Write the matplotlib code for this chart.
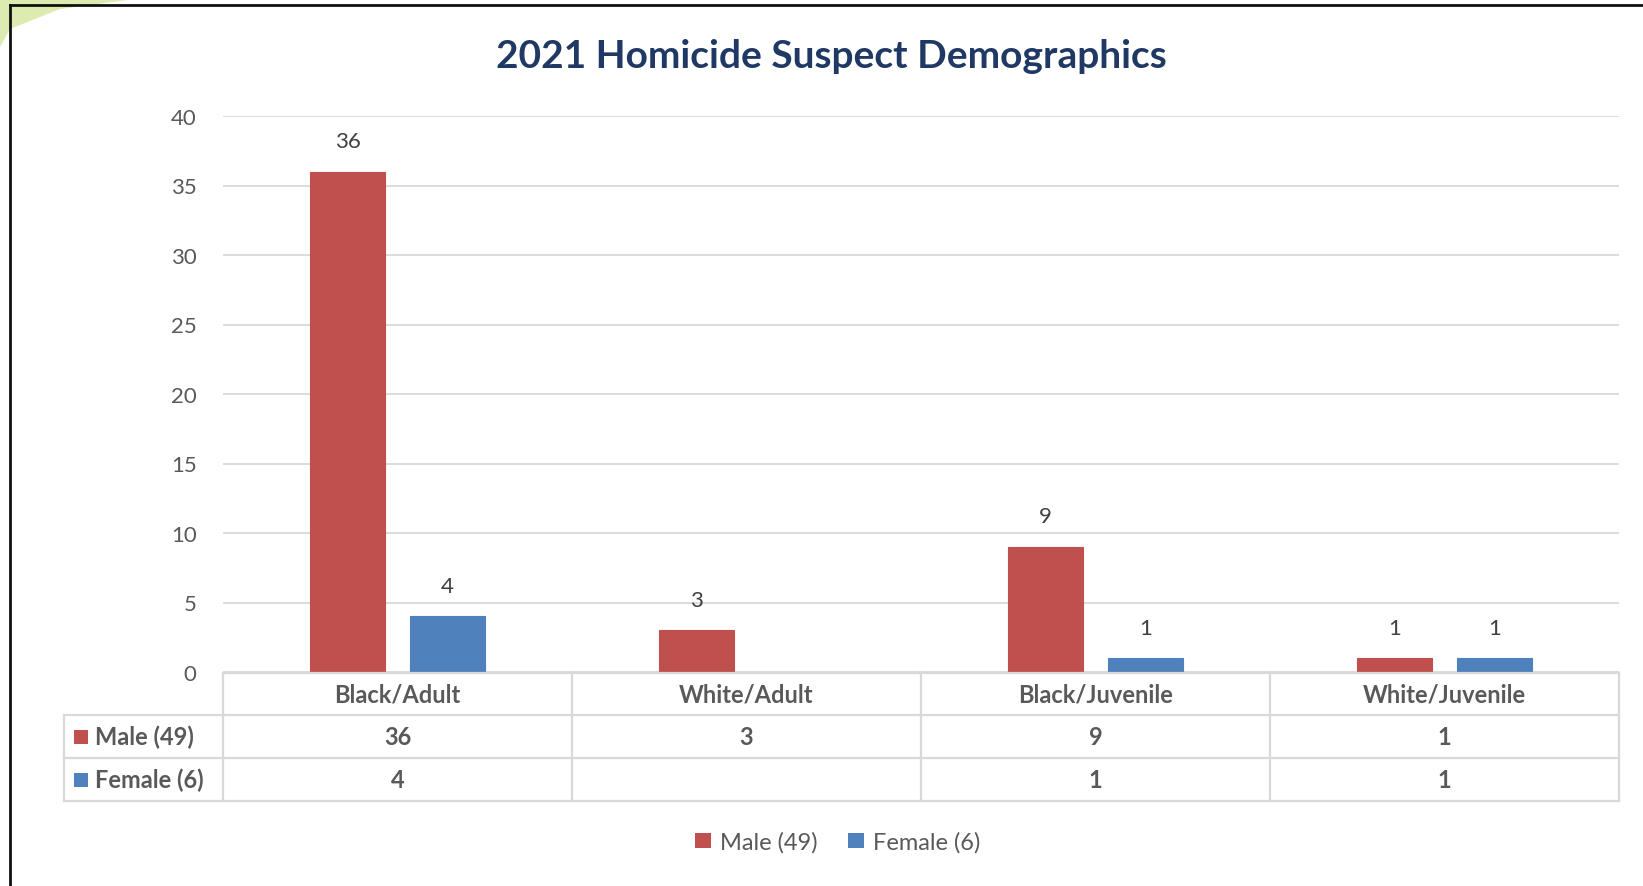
import matplotlib
matplotlib.use('Agg')
import matplotlib.pyplot as plt
import matplotlib.transforms as mtransforms
from matplotlib.patches import Rectangle, Polygon
from matplotlib.lines import Line2D
import numpy as np

# ---- data ----
categories = ['Black/Adult', 'White/Adult', 'Black/Juvenile', 'White/Juvenile']
series_names = ['Male (49)', 'Female (6)']
male = [36, 3, 9, 1]
female = [4, None, 1, 1]
y_ticks = [0, 5, 10, 15, 20, 25, 30, 35, 40]
title = '2021 Homicide Suspect Demographics'

colors = ['#C0504D', '#4F81BD']
text_col = '#595959'
grid_col = '#D9D9D9'
FONT = 'Lato'

W, H = 1643, 887
fig = plt.figure(figsize=(W / 100, H / 100), dpi=100)
fig.patch.set_facecolor('white')

def fx(px):
    return px / W

def fy(py):
    return 1 - py / H

# decorative corner swoosh and frame
fig.add_artist(Polygon([(0, fy(0)), (fx(135), fy(0)), (fx(60), fy(10)), (fx(10), fy(30)), (0, fy(48))],
                       closed=True, transform=fig.transFigure, facecolor='#DCEBB0', edgecolor='none'))
fig.add_artist(Line2D([fx(10), fx(10)], [fy(6), 0], transform=fig.transFigure, color='#111111', lw=2))
fig.add_artist(Line2D([fx(10), 1], [fy(6), fy(6)], transform=fig.transFigure, color='#111111', lw=2))

# main axes
ax_l, ax_r, ax_t, ax_b = 223, 1619, 117, 673
ax = fig.add_axes([fx(ax_l), fy(ax_b), fx(ax_r) - fx(ax_l), fy(ax_t) - fy(ax_b)])
ax.set_xlim(0, len(categories))
ax.set_ylim(0, 40)
ax.set_yticks(y_ticks)
ax.set_yticklabels([str(t) for t in y_ticks], fontsize=16, color=text_col, family=FONT)
ax.tick_params(axis='y', length=0, pad=19)
ax.tick_params(axis='x', length=0, labelbottom=False)
for s in ax.spines.values():
    s.set_visible(False)
ax.grid(axis='y', color=grid_col, lw=1.3)
ax.set_axisbelow(True)

bw = 0.215
off = 0.143
xs = np.arange(len(categories)) + 0.5
for i, (vals, c) in enumerate(zip([male, female], colors)):
    sign = -1 if i == 0 else 1
    for x, v in zip(xs, vals):
        if v is None:
            continue
        ax.bar(x + sign * off, v, width=bw, color=c, edgecolor=c, lw=0.8)
        ax.annotate(str(v), (x + sign * off, v), xytext=(0, 22), textcoords='offset points',
                    ha='center', va='center', fontsize=16, color='#404040', family=FONT)

fig.text(fx(831), fy(56), title, ha='center', va='center', fontsize=28, fontweight='bold',
         color='#1F3864', family=FONT)

# data table below
blend = mtransforms.blended_transform_factory(ax.transData, fig.transFigure)
y_top, y_h, y_m, y_f = 674, 716, 759, 802
tl_x = 64
lc = grid_col
lw = 1.6
fig.add_artist(Line2D([fx(ax_l), fx(ax_r)], [fy(y_top)] * 2, transform=fig.transFigure, color=lc, lw=lw))
for yy in (y_h, y_m, y_f):
    fig.add_artist(Line2D([fx(tl_x), fx(ax_r)], [fy(yy)] * 2, transform=fig.transFigure, color=lc, lw=lw))
fig.add_artist(Line2D([fx(tl_x)] * 2, [fy(y_h), fy(y_f)], transform=fig.transFigure, color=lc, lw=lw))
for k in range(len(categories) + 1):
    fig.add_artist(Line2D([k, k], [fy(y_top), fy(y_f)], transform=blend, color=lc, lw=lw))

row_c = [(y_top + y_h) / 2, (y_h + y_m) / 2, (y_m + y_f) / 2]
tsize = 17
for x, cat in zip(xs, categories):
    fig.text(x, fy(row_c[0]), cat, transform=blend, ha='center', va='center',
             fontsize=tsize, fontweight='bold', color=text_col, family=FONT)
for r, vals in enumerate([male, female]):
    for x, v in zip(xs, vals):
        if v is None:
            continue
        fig.text(x, fy(row_c[r + 1]), str(v), transform=blend, ha='center', va='center',
                 fontsize=tsize, fontweight='bold', color=text_col, family=FONT)
    fig.add_artist(Rectangle((fx(74), fy(row_c[r + 1] + 7)), fx(14), fy(0) - fy(14),
                             transform=fig.transFigure, facecolor=colors[r], edgecolor='none'))
    fig.text(fx(95), fy(row_c[r + 1]), series_names[r], ha='left', va='center',
             fontsize=tsize, fontweight='bold', color=text_col, family=FONT)

# bottom legend
handles = [Rectangle((0, 0), 1, 1, facecolor=c, edgecolor='none') for c in colors]
fig.legend(handles, series_names, loc='center', bbox_to_anchor=(fx(838), fy(843)), ncol=2,
           frameon=False, prop={'family': FONT, 'size': 17}, labelcolor=text_col,
           handlelength=0.65, handleheight=0.65, handletextpad=0.4, columnspacing=1.3)

fig.savefig('out.png', dpi=100, facecolor='white')
